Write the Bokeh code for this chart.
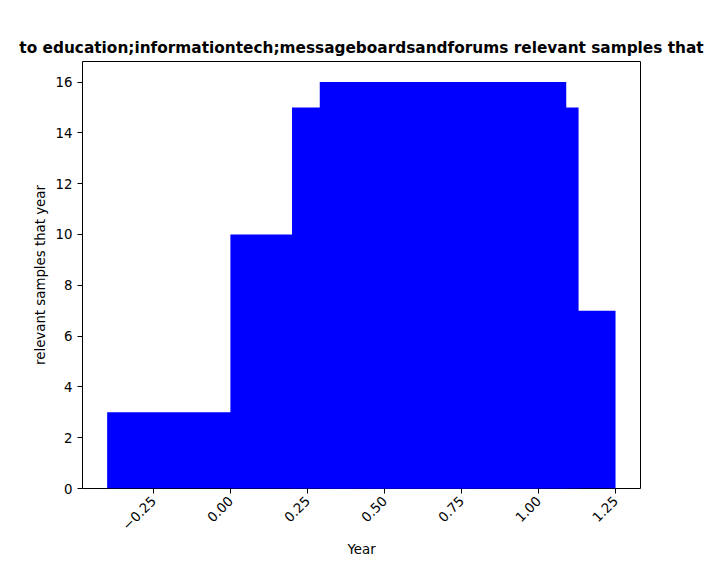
import math
from bokeh.plotting import figure
from bokeh.models import Range1d, FixedTicker, CustomJSTickFormatter
from bokeh.embed import file_html
from bokeh.resources import INLINE

centers = [0.0, 0.4, 0.6, 0.69, 0.73, 0.85]
counts = [3, 10, 15, 16, 15, 7]
bar_width = 0.8
xticks = [-0.25, 0.0, 0.25, 0.5, 0.75, 1.0, 1.25]
yticks = [0, 2, 4, 6, 8, 10, 12, 14, 16]
title = "to education;informationtech;messageboardsandforums relevant samples that"

p = figure(width=704, height=560, output_backend="svg", toolbar_location=None,
           x_range=Range1d(-0.48, 1.331), y_range=Range1d(0, 16.81),
           min_border_left=82, min_border_right=64, min_border_top=61, min_border_bottom=64)
p.vbar(x=centers, top=counts, width=bar_width, bottom=0, color="#0000ff", line_color=None)

p.title.text = title
p.title.align = "center"
p.title.text_font = "DejaVu Sans"
p.title.text_font_size = "11.5pt"
p.title.text_font_style = "bold"
p.title.text_color = "black"
p.xaxis.axis_label = "Year"
p.yaxis.axis_label = "relevant samples that year"
for ax in (p.xaxis, p.yaxis):
    ax.axis_label_text_font = "DejaVu Sans"
    ax.axis_label_text_font_style = "normal"
    ax.axis_label_text_font_size = "10pt"
    ax.axis_label_text_color = "black"
    ax.major_label_text_font = "DejaVu Sans"
    ax.major_label_text_font_size = "10pt"
    ax.major_label_text_color = "black"
    ax.minor_tick_line_color = None
    ax.major_tick_out = 5
    ax.major_tick_in = 0
    ax.major_tick_line_color = "black"
    ax.axis_line_color = None
p.xaxis.ticker = FixedTicker(ticks=xticks)
p.yaxis.ticker = FixedTicker(ticks=yticks)
p.xaxis.formatter = CustomJSTickFormatter(code="return (tick<0?'\u2212':'') + Math.abs(tick).toFixed(2);")
p.xaxis.major_label_orientation = math.pi / 4
p.grid.visible = False
p.outline_line_color = "black"
p.outline_line_width = 1

open("out.html", "w").write(file_html(p, INLINE))
